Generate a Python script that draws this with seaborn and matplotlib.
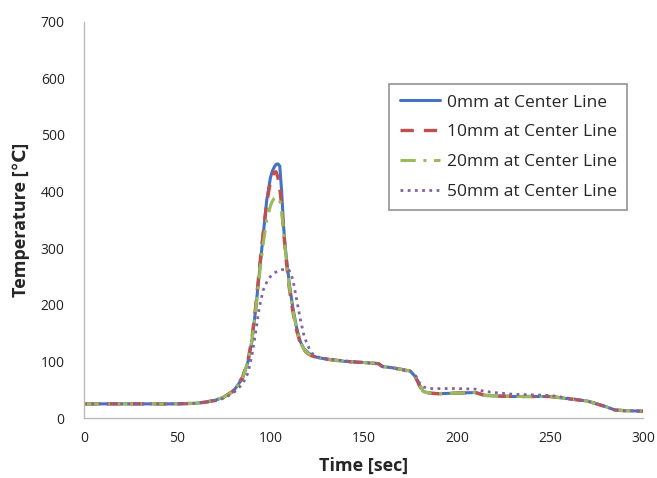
import matplotlib
matplotlib.use("Agg")
import matplotlib.pyplot as plt
import seaborn as sns
import pandas as pd

time_s = [0, 50, 60, 65, 70, 75, 80, 85, 88, 90, 92, 94, 96, 98, 100, 101, 102, 103, 104,
          105, 106, 107, 108, 110, 112, 114, 116, 118, 120, 122, 125, 130, 140, 150, 158,
          160, 165, 170, 175, 178, 180, 182, 185, 190, 200, 210, 215, 220, 230, 240, 250,
          260, 270, 280, 285, 290, 300]

temp_0mm = [25, 25, 26, 28, 31, 37, 47, 70, 100, 135, 190, 255, 320, 385, 425, 436, 443, 448, 449,
            445, 400, 340, 300, 240, 195, 160, 135, 122, 116, 111, 107, 104, 100, 98, 96,
            91, 89, 86, 83, 72, 58, 47, 44, 43, 44, 45, 40, 39, 38, 38, 38,
            34, 30, 20, 14, 13, 12]

temp_10mm = [25, 25, 26, 28, 31, 37, 48, 72, 103, 140, 195, 262, 325, 380, 418, 428, 434, 435, 425,
             405, 375, 332, 292, 232, 188, 155, 132, 120, 114, 110, 107, 104, 100, 98, 96,
             91, 89, 86, 82, 71, 57, 46, 44, 43, 44, 45, 40, 39, 38, 38, 38,
             34, 30, 20, 14, 13, 12]

temp_20mm = [25, 25, 26, 28, 31, 37, 47, 70, 100, 135, 188, 250, 305, 350, 375, 383, 388, 390, 390,
             385, 365, 330, 295, 235, 190, 157, 133, 121, 115, 110, 107, 104, 100, 98, 96,
             91, 89, 86, 83, 72, 58, 47, 44, 43, 44, 45, 40, 39, 38, 38, 38,
             34, 30, 20, 14, 13, 12]

temp_50mm = [25, 25, 26, 28, 30, 35, 44, 60, 80, 110, 150, 195, 225, 240, 250, 253, 256, 258, 260,
             261, 262, 262, 262, 261, 245, 210, 175, 145, 128, 115, 108, 105, 101, 98, 96,
             91, 89, 86, 83, 74, 62, 55, 52, 52, 52, 51, 47, 45, 42, 41, 40,
             35, 30, 20, 14, 13, 12]

labels = ["0mm at Center Line", "10mm at Center Line", "20mm at Center Line", "50mm at Center Line"]
colors = ["#4472C4", "#C0504D", "#9BBB59", "#8064A2"]

sns.set_style("white")
plt.rcParams['font.family'] = ['Open Sans', 'DejaVu Sans']

fig = plt.figure(figsize=(6.57, 4.78), dpi=100)
ax = fig.add_axes([0.128, 0.1255, 0.851, 0.829])

series = [temp_0mm, temp_10mm, temp_20mm, temp_50mm]
styles = [dict(linestyle="-", lw=2.2),
          dict(linestyle=(0, (4, 3)), lw=2.4),
          dict(linestyle=(0, (5, 2.5, 1, 2.5)), lw=2.2),
          dict(linestyle=(0, (1, 1.6)), lw=2.0)]

for vals, lab, col, st in zip(series, labels, colors, styles):
    df = pd.DataFrame({"t": time_s, "T": vals})
    sns.lineplot(data=df, x="t", y="T", ax=ax, color=col, label=lab, **st)

ax.set_xlim(0, 300)
ax.set_ylim(0, 700)
ax.set_xticks([0, 50, 100, 150, 200, 250, 300])
ax.set_yticks(range(0, 701, 100))
ax.tick_params(axis="both", length=0, labelsize=10, colors="#222222")
ax.tick_params(axis="y", pad=14)
ax.tick_params(axis="x", pad=9)

for s in ["top", "right"]:
    ax.spines[s].set_visible(False)
for s in ["left", "bottom"]:
    ax.spines[s].set_color("#BBBBBB")
    ax.spines[s].set_linewidth(1.0)

ax.set_xlabel("Time [sec]", fontsize=13, fontweight="bold", labelpad=8)
ax.set_ylabel("Temperature [\u2103]", fontsize=13, fontweight="bold", labelpad=8)

leg = ax.legend(loc="upper left", bbox_to_anchor=(0.546, 0.843), borderaxespad=0,
                fontsize=12.5, frameon=True, fancybox=False, edgecolor="#777777",
                handlelength=2.3, labelspacing=0.78, borderpad=0.6, handletextpad=0.4)
leg.get_frame().set_linewidth(1.2)

fig.savefig("out.png", dpi=100)
